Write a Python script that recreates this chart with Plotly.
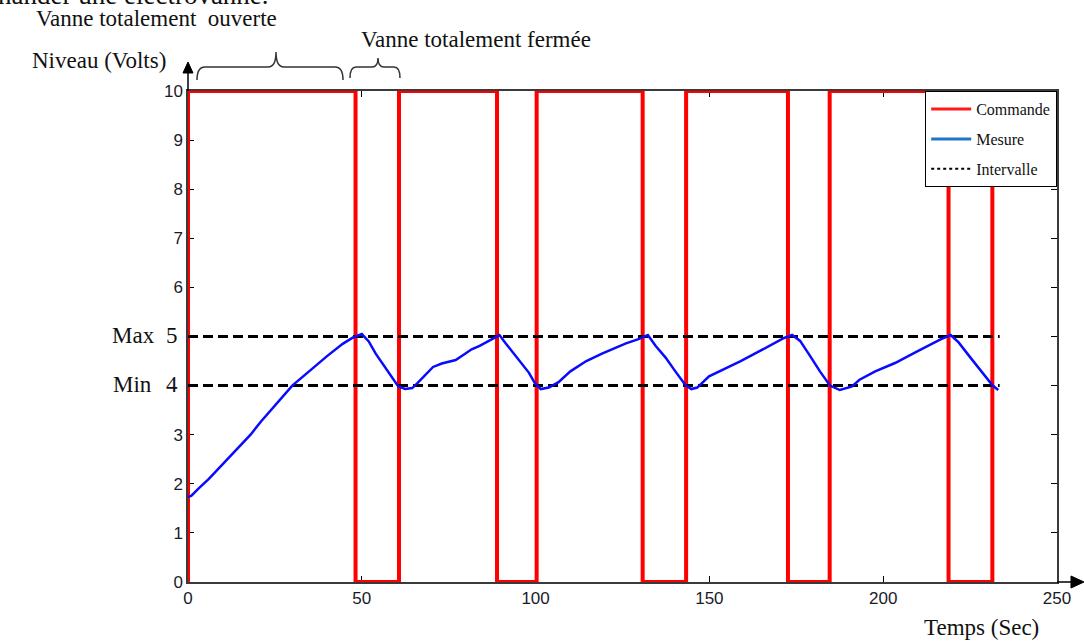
import plotly.graph_objects as go

# ---------------- data ----------------
# Command signal (valve command, Volts) : step times and levels
cmd_t = [0, 0, 48.2, 48.2, 60.7, 60.7, 88.9, 88.9, 100.3, 100.3, 130.8, 130.8,
         143.3, 143.3, 172.6, 172.6, 184.6, 184.6, 218.8, 218.8, 231.4, 231.4, 233.5]
cmd_v = [0, 10, 10, 0, 0, 10, 10, 0, 0, 10, 10, 0,
         0, 10, 10, 0, 0, 10, 10, 0, 0, 10, 10]

# Measured level (Volts)
mes_t = [0, 1, 3, 6, 10, 14, 18, 21, 25, 30, 35, 40, 44.5, 47.5, 50,
         52, 54, 56, 58, 60.5, 62.5, 64.5, 66, 68, 70.5, 73, 77, 79.3, 81.6, 83.9, 87.3, 89.6,
         91.2, 93.5, 95.8, 98.1, 99.8, 101.5, 103.8, 106.6, 110, 114.6, 119.1, 122.6, 126, 129.4, 132.3,
         134.5, 137.4, 140.2, 143.1, 144.8, 146.5, 149.9, 154.5, 159, 163.6, 168.1, 171.5, 173.8,
         176.1, 179, 181.8, 184.7, 187.5, 190.9, 193.2, 197.7, 203.4, 209.1, 213.7, 216.5, 219.4,
         221.7, 225.1, 228.5, 231.5, 233.1]
mes_v = [1.73, 1.76, 1.9, 2.1, 2.4, 2.7, 3.0, 3.27, 3.6, 4.0, 4.3, 4.6, 4.85, 4.98, 5.05,
         4.9, 4.65, 4.45, 4.25, 3.98, 3.93, 3.95, 4.05, 4.2, 4.38, 4.45, 4.52, 4.63, 4.74, 4.81, 4.94, 5.03,
         4.88, 4.67, 4.46, 4.26, 4.05, 3.93, 3.96, 4.07, 4.29, 4.5, 4.65, 4.76, 4.86, 4.94, 5.03,
         4.81, 4.57, 4.29, 4.01, 3.93, 3.96, 4.19, 4.34, 4.5, 4.67, 4.84, 4.97, 5.03,
         4.91, 4.6, 4.29, 4.0, 3.91, 3.98, 4.12, 4.29, 4.46, 4.67, 4.84, 4.94, 5.03,
         4.88, 4.57, 4.26, 4.0, 3.91]

# Interval limits
int_t = [0, 233.5]
max_v = [5, 5]
min_v = [4, 4]

x_ticks = [0, 50, 100, 150, 200, 250]
y_ticks = [0, 1, 2, 3, 4, 5, 6, 7, 8, 9, 10]
y_ticktext = ["0", "1", "2", "3", "", "", "6", "7", "8", "9", "10"]

legend_names = ["Commande", "Mesure", "Intervalle"]

# ---------------- layout geometry (pixels) ----------------
W, H = 1084, 643
L, R, T, B = 188, 27, 91, 61
PW, PH = W - L - R, H - T - B


def px(xp):
    return (xp - L) / PW


def py(yp):
    return (H - B - yp) / PH


SERIF = "Liberation Serif, Times New Roman, serif"
SANS = "Liberation Sans, Arial, sans-serif"

fig = go.Figure()

fig.add_trace(go.Scatter(x=cmd_t, y=cmd_v, mode="lines", showlegend=False,
                         line=dict(color="#ff0000", width=4), hoverinfo="skip"))
fig.add_trace(go.Scatter(x=int_t, y=max_v, mode="lines", showlegend=False,
                         line=dict(color="black", width=3, dash="10px,5px")))
fig.add_trace(go.Scatter(x=int_t, y=min_v, mode="lines", showlegend=False,
                         line=dict(color="black", width=3, dash="10px,5px")))
fig.add_trace(go.Scatter(x=mes_t, y=mes_v, mode="lines", showlegend=False,
                         line=dict(color="#0a0aff", width=2.5)))

# legend entries
leg_styles = [dict(color="#ff1a1a", width=3),
              dict(color="#1f74cc", width=3),
              dict(color="black", width=2, dash="dot")]
for i, (nm, st) in enumerate(zip(legend_names, leg_styles)):
    fig.add_trace(go.Scatter(x=[None], y=[None], mode="lines", name=nm,
                             line=st, legendgroup="g%d" % i))


# braces (decorations, paper coords)
def brace(x0, x1, xm, yb, ym, yt, d):
    X0, X1, XM = px(x0), px(x1), px(xm)
    YB, YM, YT = py(yb), py(ym), py(yt)
    D = d / PW
    return ("M %f,%f Q %f,%f %f,%f L %f,%f Q %f,%f %f,%f Q %f,%f %f,%f L %f,%f Q %f,%f %f,%f" % (
        X0, YB, X0, YM, X0 + D, YM,
        XM - D, YM, XM, YM, XM, YT,
        XM, YM, XM + D, YM,
        X1 - D, YM, X1, YM, X1, YB))


shapes = [
    dict(type="path", xref="paper", yref="paper",
         path=brace(197, 343, 276, 80, 67, 52, 8), line=dict(color="#333", width=1.5)),
    dict(type="path", xref="paper", yref="paper",
         path=brace(350, 400, 378, 78, 67, 58, 6), line=dict(color="#333", width=1.5)),
    # y axis arrow
    dict(type="line", xref="paper", yref="paper", x0=px(188), x1=px(188), y0=py(91), y1=py(72),
         line=dict(color="black", width=1.5)),
    dict(type="path", xref="paper", yref="paper",
         path="M %f,%f L %f,%f L %f,%f Z" % (px(188), py(62), px(183), py(73), px(193), py(73)),
         fillcolor="black", line=dict(color="black", width=1)),
    # x axis arrow
    dict(type="line", xref="paper", yref="paper", x0=px(1057), x1=px(1073), y0=py(582), y1=py(582),
         line=dict(color="black", width=1.5)),
    dict(type="path", xref="paper", yref="paper",
         path="M %f,%f L %f,%f L %f,%f Z" % (px(1084), py(582), px(1071), py(576), px(1071), py(588)),
         fillcolor="black", line=dict(color="black", width=1)),
]


def ann(text, xp, yp, size=22, xanchor="center", font=SERIF):
    return dict(text=text, xref="paper", yref="paper", x=px(xp), y=py(yp),
                xanchor=xanchor, yanchor="middle", showarrow=False,
                font=dict(family=font, size=size, color="#111"))


annotations = [
    ann("nander une électrovanne.", -4, -5, size=27, xanchor="left"),
    ann("Vanne totalement  ouverte", 156, 19, size=23),
    ann("Vanne totalement fermée", 476, 39, size=23),
    ann("Niveau (Volts)", 99, 60, size=23),
    ann("Temps (Sec)", 981, 627, size=23),
    ann("Max", 133, 335, size=23),
    ann("5", 172, 335, size=23),
    ann("Min", 132, 384, size=23),
    ann("4", 172, 384, size=23),
]

axis_common = dict(showline=True, linecolor="#3a3a3a", linewidth=1.5, mirror="ticks",
                   ticks="inside", ticklen=6, tickwidth=1, tickcolor="black",
                   showgrid=False, zeroline=False, layer="below traces",
                   tickfont=dict(family=SANS, size=17, color="#1a1a2a"))

fig.update_layout(
    width=W, height=H,
    margin=dict(l=L, r=R, t=T, b=B, pad=0),
    paper_bgcolor="white", plot_bgcolor="white",
    xaxis=dict(range=[0, 250], tickvals=x_ticks, **axis_common),
    yaxis=dict(range=[0, 10], tickvals=y_ticks, ticktext=y_ticktext,
               ticklabelstandoff=0, **axis_common),
    legend=dict(x=1, xanchor="right", y=1, yanchor="top", bgcolor="white",
                bordercolor="black", borderwidth=1.2, itemwidth=40,
                tracegroupgap=6, traceorder="grouped",
                font=dict(family=SERIF, size=16, color="#111")),
    shapes=shapes,
    annotations=annotations,
    showlegend=True,
)

fig.write_html("out.html", config={"displayModeBar": False},
               post_script="document.body.style.margin='0';document.body.style.overflow='hidden';")
